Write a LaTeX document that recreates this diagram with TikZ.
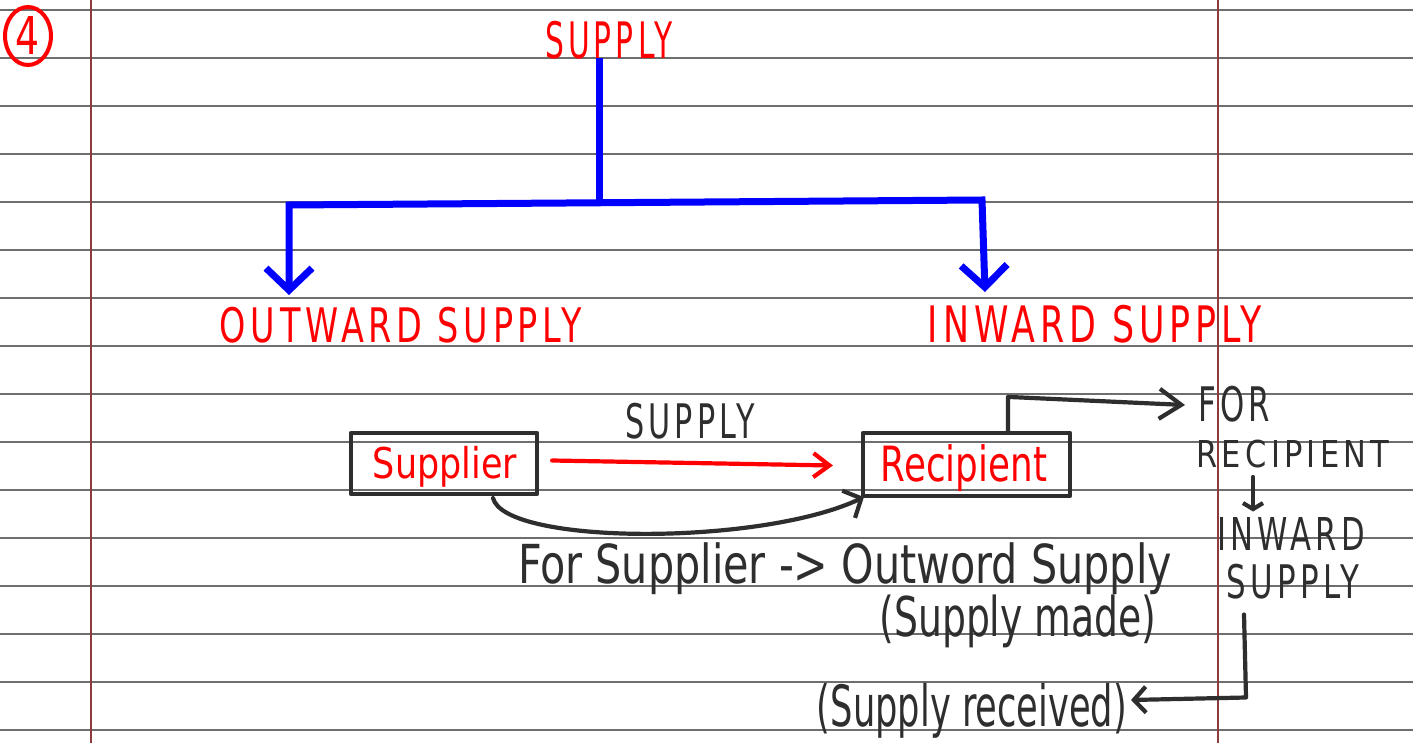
\documentclass[tikz,border=0pt]{standalone}
\usepackage{fontspec}
\setmainfont{DejaVu Sans}
\newfontfamily\capsfont[LetterSpace=14]{DejaVu Sans}
\usepackage{graphicx}
\usetikzlibrary{arrows.meta,shapes.geometric}
\definecolor{ink}{HTML}{2E2E2E}
\definecolor{pen}{HTML}{FF0000}
\definecolor{bluepen}{HTML}{0000FF}
\definecolor{ruleline}{HTML}{6E6E6E}
\definecolor{marginline}{HTML}{8E3B3B}
\newcommand{\fitto}[3]{\resizebox*{#1pt}{#2pt}{#3}}
\begin{document}
\begin{tikzpicture}[x=1pt,y=-1pt,
  txt/.style={inner sep=0pt,outer sep=0pt,anchor=center},
  redtxt/.style={txt,text=pen},
  inktxt/.style={txt,text=ink},
  inkline/.style={draw=ink,line width=4.2pt,line cap=round,line join=round},
  redline/.style={draw=pen,line width=4.2pt,line cap=round,line join=round},
  bluetree/.style={draw=bluepen,line width=7pt,line cap=butt,line join=miter},
  boxed/.style={draw=ink,line width=4.2pt,inner sep=0pt,line join=round},
  ruled/.style={draw=ruleline,line width=1.6pt},
  margins/.style={draw=marginline,line width=1.2pt}]
\useasboundingbox (0,0) rectangle (1413,743);
\fill[white] (0,0) rectangle (1413,743);
% paper rules
\foreach \k in {0,...,15}{
  \draw[ruled] (0,10+48*\k) -- (1413,10+48*\k);
}
\draw[margins] (91,0) -- (91,743);
\draw[margins] (1218,0) -- (1218,743);

% circled number
\node[txt,text=pen,draw=pen,ellipse,line width=4pt,minimum width=46pt,minimum height=58pt] (num) at (28,36) {\fitto{24}{38}{4}};

% titles
\node[redtxt] (title) at (609,40) {\fitto{128}{38}{\capsfont SUPPLY}};
\node[redtxt] (outward) at (401,325) {\fitto{362}{36}{\capsfont OUTWARD SUPPLY}};
\node[redtxt] (inward) at (1095,324) {\fitto{334}{38}{\capsfont INWARD SUPPLY}};

% blue tree
\coordinate (stemtop) at (599,58);
\coordinate (stembot) at (599,203);
\coordinate (lcorner) at (289,205);
\coordinate (rcorner) at (982,200);
\coordinate (ltip) at (289,295);
\coordinate (rtip) at (985,292);
\draw[bluetree] (stemtop) -- (stembot);
\draw[bluetree,{Straight Barb[length=22pt,width=46pt]}-{Straight Barb[length=22pt,width=46pt]}]
  (ltip) -- (lcorner) -- (rcorner) -- (rtip);

% supplier / recipient
\node[boxed,minimum width=186pt,minimum height=61pt] (supbox) at (444,463.5) {};
\node[redtxt] (suptxt) at (445,467) {\fitto{144}{41}{Supplier}};
\node[boxed,minimum width=207pt,minimum height=63pt] (recbox) at (966.5,464.5) {};
\node[redtxt] (rectxt) at (964,468) {\fitto{166}{47}{Recipient}};
\node[inktxt] (supplylbl) at (690,421) {\fitto{130}{36}{\capsfont SUPPLY}};

\draw[redline,-{Straight Barb[length=16pt,width=24pt]}]
  ([shift={(13,-3)}]supbox.east) -- ([shift={(-28,1)}]recbox.west);
\draw[inkline,-{Straight Barb[length=14pt,width=30pt]}]
  ([shift={(49,2)}]supbox.south) .. controls +(12,47) and +(-104,49) .. ([shift={(3,-1)}]recbox.south west);

% right column
\node[inktxt] (fortxt) at (1234,404) {\fitto{72}{36}{\capsfont FOR}};
\node[inktxt] (rec2) at (1293,454) {\fitto{193}{28}{\capsfont RECIPIENT}};
\node[inktxt] (inw2) at (1291,534) {\fitto{148}{33}{\capsfont INWARD}};
\node[inktxt] (sup2) at (1293,582) {\fitto{133}{35}{\capsfont SUPPLY}};

\draw[inkline,-{Straight Barb[length=22pt,width=30pt]}]
  ([xshift=41.5pt]recbox.north) -- ++(0,-34) -- ([shift={(-13,1)}]fortxt.west);
\draw[inkline,-{Straight Barb[length=6pt,width=20pt]}]
  ([shift={(-40,9)}]rec2.south) -- ([shift={(-38,-6)}]inw2.north);

% bottom texts
\node[inktxt] (forsup) at (845,569) {\fitto{654}{52}{For Supplier -> Outword Supply}};
\node[inktxt] (made) at (1018,621) {\fitto{277}{53}{(Supply made)}};
\node[inktxt] (recv) at (972,711) {\fitto{310}{55}{(Supply received)}};

\draw[inkline,-{Straight Barb[length=12pt,width=26pt]}]
  ([shift={(-49,15)}]sup2.south) -- ++(2,83) -- ([shift={(4,-11)}]recv.east);
\end{tikzpicture}
\end{document}
